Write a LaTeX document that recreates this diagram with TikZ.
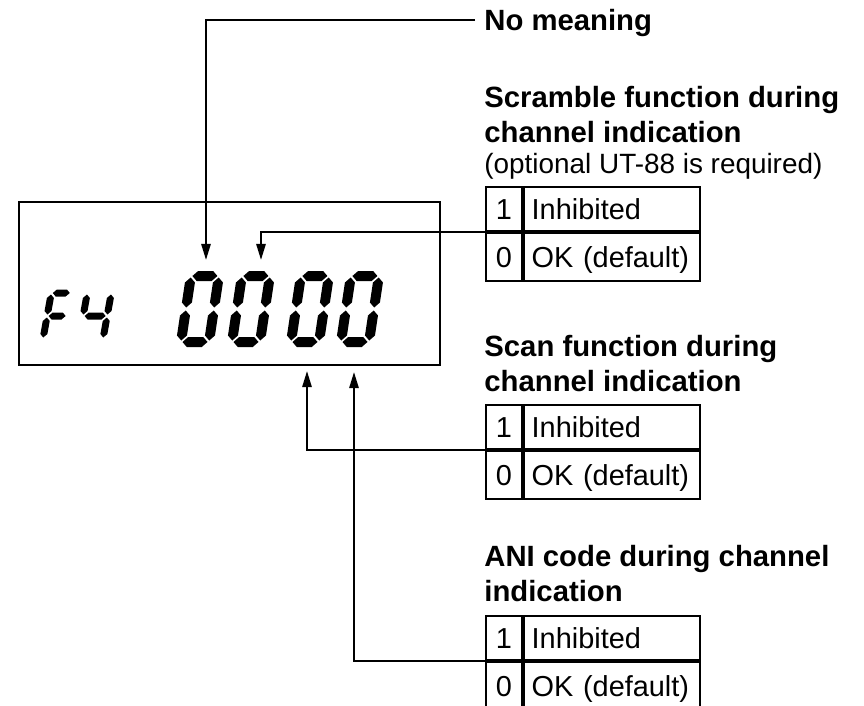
\documentclass[tikz,border=0pt]{standalone}
\usepackage{fontspec}
\setmainfont{Liberation Sans}
\usetikzlibrary{arrows.meta}

\newcommand{\headfont}{\fontsize{14.7}{17.5}\selectfont\bfseries}
\newcommand{\notefont}{\fontsize{14}{16}\selectfont}
\newcommand{\cellfont}{\fontsize{14.5}{17}\selectfont}

\newcommand{\lcdw}{27}
\newcommand{\lcdh}{66}
\newcommand{\lcdt}{8}
\newcommand{\lcdg}{1.5}
\newcommand{\hseg}[3]{\fill (#1,#2) -- (#1+\lcdt/2,#2-\lcdt/2) -- (#3-\lcdt/2,#2-\lcdt/2) -- (#3,#2) -- (#3-\lcdt/2,#2+\lcdt/2) -- (#1+\lcdt/2,#2+\lcdt/2) -- cycle;}
\newcommand{\vseg}[3]{\fill (#1,#2) -- (#1+\lcdt/2,#2+\lcdt/2) -- (#1+\lcdt/2,#3-\lcdt/2) -- (#1,#3) -- (#1-\lcdt/2,#3-\lcdt/2) -- (#1-\lcdt/2,#2+\lcdt/2) -- cycle;}
\newcommand{\sega}{\hseg{\lcdg}{-\lcdh}{\lcdw-\lcdg}}
\newcommand{\segb}{\vseg{\lcdw}{-\lcdh+\lcdg}{-\lcdh/2-\lcdg}}
\newcommand{\segc}{\vseg{\lcdw}{-\lcdh/2+\lcdg}{-\lcdg}}
\newcommand{\segd}{\hseg{\lcdg}{0}{\lcdw-\lcdg}}
\newcommand{\sege}{\vseg{0}{-\lcdh/2+\lcdg}{-\lcdg}}
\newcommand{\segf}{\vseg{0}{-\lcdh+\lcdg}{-\lcdh/2-\lcdg}}
\newcommand{\segg}{\hseg{\lcdg}{-\lcdh/2}{\lcdw-\lcdg}}
\newcommand{\lcddigit}[7]{%
  \begin{scope}[shift={(#1,#2)}, xslant=#6]
    \renewcommand{\lcdw}{#3}\renewcommand{\lcdh}{#4}\renewcommand{\lcdt}{#5}
    #7
  \end{scope}}

\tikzset{
  headtext/.style={font=\headfont, align=left, inner sep=0pt},
  notetext/.style={font=\notefont, inner sep=0pt},
  numcell/.style={draw, line width=0.9bp, font=\cellfont, minimum width=18bp, minimum height=#1, inner sep=0pt, text height=10.6bp, text depth=0pt},
  numcell/.default=22bp,
  txtcell/.style={draw, line width=0.9bp, font=\cellfont, text width=80bp, inner xsep=4bp, inner ysep=0pt, minimum height=#1, align=left, text height=10.6bp, text depth=0pt},
  txtcell/.default=22bp,
  lcdbox/.style={draw, line width=1.2bp, minimum width=210.5bp, minimum height=81.5bp, inner sep=0pt},
  conn/.style={line width=1bp, -{Triangle[length=8bp,width=4.6bp]}}
}

\begin{document}
\begin{tikzpicture}[x=0.5bp, y=-0.5bp]
  \useasboundingbox (0,0) rectangle (864,706);
  \node[lcdbox] (lcd) at (229.5,283.5) {};
  \lcddigit{43}{339}{20}{46}{7}{0.18}{\sega\segf\sege\segg}
  \lcddigit{79}{339}{24}{46}{7}{0.18}{\segf\segg\segb\segc}
  \foreach \x in {181,232,291,341} {
    \lcddigit{\x}{342}{28}{66}{10}{0.15}{\sega\segb\segc\segd\sege\segf}
  }
  \coordinate (dig1) at (206,260);
  \coordinate (dig2) at (261,260);
  \coordinate (dig3) at (307,371);
  \coordinate (dig4) at (354,372);

  \node[headtext, anchor=west, text depth=0pt, inner xsep=4.5bp] (nomean) at (475,20) {No meaning};
  \node[headtext, anchor=north west] (scrhead) at (484,86) {Scramble function during\\channel indication};
  \node[notetext, anchor=base west] (scrnote) at (484,173) {(optional UT-88 is required)};
  \node[headtext, anchor=north west] (scnhead) at (484,335) {Scan function during\\channel indication};
  \node[headtext, anchor=north west] (anihead) at (484,545) {ANI code during channel\\indication};

  \foreach \t/\y in {scr/186, scn/404, ani/615} {
    \node[numcell, anchor=north west] (\t1n) at (485,\y) {1};
    \node[txtcell, anchor=north west] (\t1t) at (\t1n.north east) {Inhibited};
    \node[numcell=24bp, anchor=north west] (\t0n) at (\t1n.south west) {0};
    \node[txtcell=24bp, anchor=north west] (\t0t) at (\t0n.north east) {OK (default)};
  }

  \draw[conn] (nomean.west) -| (dig1);
  \draw[conn] (scr1n.south west) -| (dig2);
  \draw[conn] (scn1n.south west) -| (dig3);
  \draw[conn] (ani1n.south west) -| (dig4);
\end{tikzpicture}
\end{document}
